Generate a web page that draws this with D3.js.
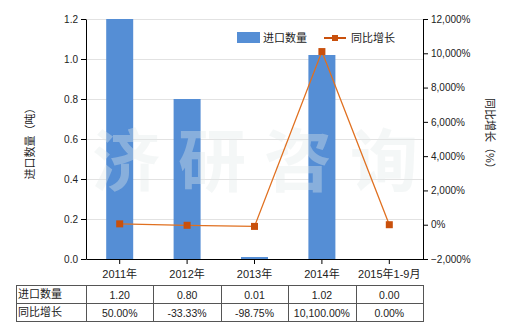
<!DOCTYPE html>
<html>
<head>
<meta charset="utf-8">
<script src="https://cdn.jsdelivr.net/npm/d3@7"></script>
<style>
  body { margin: 0; background: #fff; }
  svg text { font-family: "Liberation Sans", "Noto Sans CJK SC", sans-serif; fill: #222; }
</style>
</head>
<body>
<svg width="520" height="330"></svg>
<script>
var categories = ['2011年', '2012年', '2013年', '2014年', '2015年1-9月'];
var imports = [1.20, 0.80, 0.01, 1.02, 0.00];
var growth = [50.00, -33.33, -98.75, 10100.00, 0.00];
var importLabels = ['1.20', '0.80', '0.01', '1.02', '0.00'];
var growthLabels = ['50.00%', '-33.33%', '-98.75%', '10,100.00%', '0.00%'];
var leftTicks = [0, 0.2, 0.4, 0.6, 0.8, 1.0, 1.2];
var rightTicks = [-2000, 0, 2000, 4000, 6000, 8000, 10000, 12000];

var plot = { left: 86, right: 423, top: 19, bottom: 259 };
var barColor = '#558ed5';
var lineColor = '#e07020';
var markColor = '#c9500c';

var svg = d3.select('svg');

var x = d3.scaleBand()
    .domain(categories)
    .range([plot.left, plot.right]);

var y = d3.scaleLinear()
    .domain([0, 1.2])
    .range([plot.bottom, plot.top]);

var y2 = d3.scaleLinear()
    .domain([-2000, 12000])
    .range([plot.bottom, plot.top]);

// grid
svg.append('g')
  .selectAll('line')
  .data(leftTicks.slice(1))
  .enter().append('line')
    .attr('x1', plot.left)
    .attr('x2', plot.right)
    .attr('y1', function(d) { return y(d) + 0.5; })
    .attr('y2', function(d) { return y(d) + 0.5; })
    .attr('stroke', '#e2e2e2');

var bw = 27;
svg.append('g')
  .selectAll('rect')
  .data(imports)
  .enter().append('rect')
    .attr('x', function(d, i) { return x(categories[i]) + x.bandwidth() / 2 - bw / 2; })
    .attr('y', function(d) { return y(d); })
    .attr('width', bw)
    .attr('height', function(d) { return plot.bottom - y(d); })
    .attr('fill', barColor);

// watermark
svg.append('g')
  .selectAll('text')
  .data(['济', '研', '咨', '询'])
  .enter().append('text')
    .attr('x', function(d, i) { return 126 + i * 86; })
    .attr('y', 186)
    .attr('text-anchor', 'middle')
    .style('font-family', '"Noto Sans CJK SC"')
    .style('font-weight', 'bold')
    .style('font-size', '68px')
    .style('fill', '#e3eaea')
    .style('opacity', 0.36)
    .text(function(d) { return d; });

// line
var line = d3.line()
    .x(function(d, i) { return x(categories[i]) + x.bandwidth() / 2; })
    .y(function(d) { return y2(d); });

svg.append('path')
    .datum(growth)
    .attr('d', line)
    .attr('fill', 'none')
    .attr('stroke', lineColor)
    .attr('stroke-width', 1.3);

svg.append('g')
  .selectAll('rect')
  .data(growth)
  .enter().append('rect')
    .attr('x', function(d, i) { return x(categories[i]) + x.bandwidth() / 2 - 3.5; })
    .attr('y', function(d) { return y2(d) - 3.5; })
    .attr('width', 7)
    .attr('height', 7)
    .attr('fill', markColor);

// axes
var yAxis = d3.axisLeft(y)
    .tickValues(leftTicks)
    .tickFormat(d3.format('.1f'))
    .tickSize(5)
    .tickSizeOuter(0);

var y2Axis = d3.axisRight(y2)
    .tickValues(rightTicks)
    .tickFormat(function(d) { return d3.format(',')(d) + '%'; })
    .tickSize(5)
    .tickSizeOuter(0);

var xAxis = d3.axisBottom(x)
    .tickSize(5)
    .tickSizeOuter(0);

function styleAxis(g) {
  g.select('.domain').attr('stroke', '#000');
  g.selectAll('.tick line').attr('stroke', '#000');
  g.selectAll('.tick text')
    .style('font-size', '10px')
    .style('fill', '#222');
}

svg.append('g')
    .attr('transform', 'translate(' + plot.left + ',0)')
    .call(yAxis)
    .call(styleAxis);

svg.append('g')
    .attr('transform', 'translate(' + plot.right + ',0)')
    .call(y2Axis)
    .call(styleAxis);

svg.append('g')
    .attr('transform', 'translate(0,' + plot.bottom + ')')
    .call(xAxis)
    .call(styleAxis)
    .selectAll('.tick text')
    .attr('dy', '1em')
    .style('font-size', '11px');

// axis titles
svg.append('text')
    .attr('transform', 'translate(34,141) rotate(-90)')
    .attr('text-anchor', 'middle')
    .style('font-size', '11px')
    .text('进口数量（吨）');

svg.append('text')
    .attr('transform', 'translate(486,136) rotate(90)')
    .attr('text-anchor', 'middle')
    .style('font-size', '11px')
    .text('同比增长（%）');

// legend
svg.append('rect')
    .attr('x', 237).attr('y', 32).attr('width', 23).attr('height', 11)
    .attr('fill', barColor);
svg.append('text')
    .attr('x', 263).attr('y', 42)
    .style('font-size', '11px')
    .text('进口数量');
svg.append('line')
    .attr('x1', 324).attr('x2', 346).attr('y1', 38).attr('y2', 38)
    .attr('stroke', markColor).attr('stroke-width', 2);
svg.append('rect')
    .attr('x', 332).attr('y', 35).attr('width', 6).attr('height', 6)
    .attr('fill', markColor);
svg.append('text')
    .attr('x', 351).attr('y', 42)
    .style('font-size', '11px')
    .text('同比增长');

// data table
var rowTop = [285, 303];
var rowH = 18;
var tableLeft = 16;
var table = svg.append('g');
var rows = [
  { name: '进口数量', vals: importLabels },
  { name: '同比增长', vals: growthLabels }
];

table.append('rect')
    .attr('x', tableLeft + 0.5).attr('y', rowTop[0] + 0.5)
    .attr('width', plot.right - tableLeft).attr('height', rowH * 2)
    .attr('fill', 'none').attr('stroke', '#555');
table.append('line')
    .attr('x1', tableLeft).attr('x2', plot.right)
    .attr('y1', rowTop[1] + 0.5).attr('y2', rowTop[1] + 0.5)
    .attr('stroke', '#555');
table.selectAll('line.col')
  .data(categories)
  .enter().append('line')
    .attr('class', 'col')
    .attr('x1', function(d) { return Math.round(x(d)) + 0.5; })
    .attr('x2', function(d) { return Math.round(x(d)) + 0.5; })
    .attr('y1', rowTop[0]).attr('y2', rowTop[0] + rowH * 2)
    .attr('stroke', '#555');

rows.forEach(function(r, ri) {
  table.append('text')
      .attr('x', tableLeft + 2)
      .attr('y', rowTop[ri] + 13)
      .style('font-size', '11px')
      .text(r.name);
  table.selectAll('text.v' + ri)
    .data(r.vals)
    .enter().append('text')
      .attr('class', 'v' + ri)
      .attr('x', function(d, i) { return x(categories[i]) + x.bandwidth() / 2; })
      .attr('y', rowTop[ri] + 13.5)
      .attr('text-anchor', 'middle')
      .style('font-size', '10.5px')
      .text(function(d) { return d; });
});
</script>
</body>
</html>
